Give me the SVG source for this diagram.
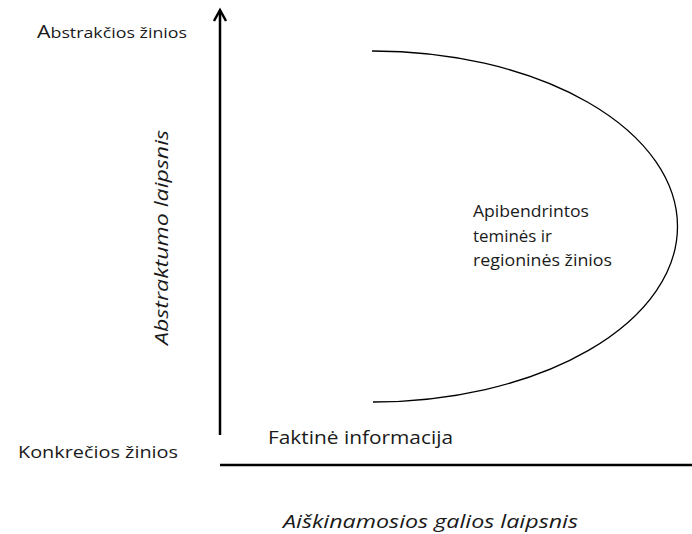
<svg xmlns="http://www.w3.org/2000/svg" width="692" height="534" viewBox="0 0 692 534">
<style>
text{font-family:"Open Sans","Liberation Sans",sans-serif;fill:#1a1a1a}
.it{font-style:italic}
.ln{stroke:#000;fill:none}
</style>
<rect width="692" height="534" fill="#fff"/>
<g id="connectors">
<line class="ln" x1="220" y1="435" x2="220" y2="11" stroke-width="2.5"/>
<path class="ln" d="M214,21 L220,10 L226,21" stroke-width="2.5" stroke-linejoin="miter"/>
<line class="ln" x1="220" y1="465" x2="692" y2="465" stroke-width="2.5"/>
</g>
<g id="curve">
<path class="ln" stroke-width="1.3" d="M372,51 A305,175.5 0 0 1 373,402"/>
</g>
<g id="abstrakcios">
<text x="37" y="38" font-size="15" textLength="150" lengthAdjust="spacingAndGlyphs"><tspan font-size="18">A</tspan>bstrakčios žinios</text>
</g>
<g id="konkrecios">
<text x="18" y="458" font-size="16" textLength="160" lengthAdjust="spacingAndGlyphs">Konkrečios žinios</text>
</g>
<g id="faktine">
<text x="268" y="444" font-size="18.5" textLength="185" lengthAdjust="spacingAndGlyphs">Faktinė informacija</text>
</g>
<g id="apibendrintos">
<text x="473" y="217" font-size="16" textLength="116" lengthAdjust="spacingAndGlyphs">Apibendrintos</text>
<text x="473" y="242" font-size="16" textLength="79" lengthAdjust="spacingAndGlyphs">teminės ir</text>
<text x="473" y="266" font-size="16" textLength="139" lengthAdjust="spacingAndGlyphs">regioninės žinios</text>
</g>
<g id="x-axis-label">
<text class="it" x="283" y="528" font-size="18" textLength="295" lengthAdjust="spacingAndGlyphs">Aiškinamosios  galios laipsnis</text>
</g>
<g id="y-axis-label">
<text class="it" transform="translate(168,345) rotate(-90)" font-size="18" textLength="215" lengthAdjust="spacingAndGlyphs">Abstraktumo laipsnis</text>
</g>
</svg>
